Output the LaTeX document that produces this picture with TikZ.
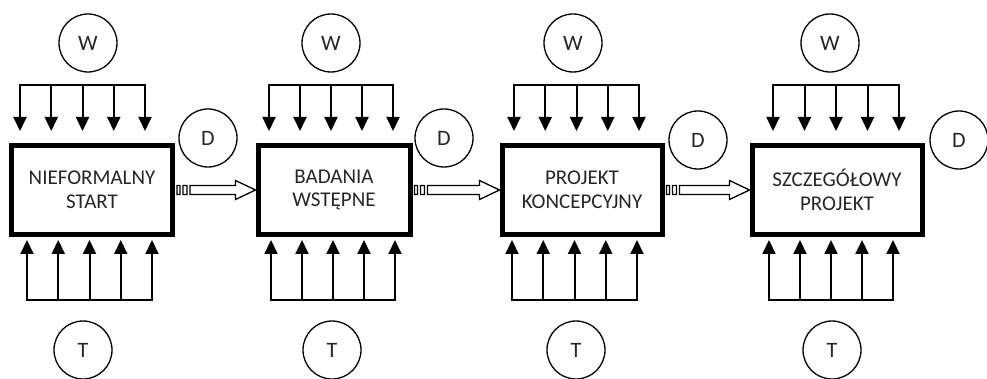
\documentclass[tikz,border=0pt]{standalone}
\usepackage{fontspec}
\setmainfont{Carlito}
\usetikzlibrary{arrows.meta,calc}
\tikzset{
  stage/.style={draw, rectangle, line width=5pt, minimum height=89pt,
    inner sep=0pt, align=center, text=black!85,
    font=\fontsize{21}{23.5}\selectfont},
  factor/.style={draw, circle, line width=1.3pt, minimum size=58pt,
    inner sep=0pt, text=black!85, font=\fontsize{22}{22}\selectfont},
  feed/.style={line width=2pt, -{Triangle[width=13pt,length=14pt]}},
  feedbar/.style={line width=2pt, line cap=rect},
  flow/.style={line width=1.3pt, fill=white, line join=miter},
}
\begin{document}
\begin{tikzpicture}[x=1pt,y=-1pt]
\useasboundingbox (0,0) rectangle (987,379);

% stages with their inputs (W), outputs (T) and decisions (D)
\foreach \i/\bx/\bw/\wx/\wa/\wb/\tx/\ta/\tb/\dx/\dy/\txt in {
  1/92/161/88/20/145/83/27/152/208/138/{NIEFORMALNY\\START},
  2/334/152/331/269/393/332/271/395/444/138/{BADANIA\\WSTĘPNE},
  3/582/160/573/514/639/576/512/637/698/140/{PROJEKT\\KONCEPCYJNY},
  4/837/170/830/773/899/832/769/893/959/140/{SZCZEGÓŁOWY\\PROJEKT}}{
  \node[stage, minimum width=\bw pt] (b\i) at (\bx,190) {\txt};
  \node[factor] (w\i) at (\wx,43) {W};
  \node[factor] (t\i) at (\tx,350) {T};
  \node[factor] (d\i) at (\dx,\dy) {D};
  % feeding arrows from above
  \coordinate (wl\i) at (\wa,85);
  \coordinate (wr\i) at (\wb,85);
  \draw[feedbar] (wl\i) -- (wr\i);
  \foreach \k in {0,...,4}{
    \coordinate (ws\i\k) at ({\wa+\k*(\wb-\wa)/4},85);
    \coordinate (we\i\k) at ({\wa+\k*(\wb-\wa)/4},131);
    \draw[feed] (ws\i\k) -- (we\i\k);
  }
  % feeding arrows from below
  \coordinate (tl\i) at (\ta,300);
  \coordinate (tr\i) at (\tb,300);
  \draw[feedbar] (tl\i) -- (tr\i);
  \foreach \k in {0,...,4}{
    \coordinate (ts\i\k) at ({\ta+\k*(\tb-\ta)/4},300);
    \coordinate (te\i\k) at ({\ta+\k*(\tb-\ta)/4},240);
    \draw[feed] (ts\i\k) -- (te\i\k);
  }
}

% striped hollow arrows between stages
\foreach \a/\b in {1/2,2/3,3/4}{
  \draw[flow] let \p1=([xshift=2pt]b\a.east), \p2=(b\b.west) in
    (\x1,\y1+4.5pt) rectangle (\x1+3pt,\y1-4.5pt)
    (\x1+6pt,\y1+4.5pt) rectangle (\x1+10pt,\y1-4.5pt)
    (\x1+13pt,\y1+4.5pt) -- (\x2-20pt,\y1+4.5pt) -- (\x2-20pt,\y1+9.5pt)
    -- (\x2,\y1) -- (\x2-20pt,\y1-9.5pt) -- (\x2-20pt,\y1-4.5pt)
    -- (\x1+13pt,\y1-4.5pt) -- cycle;
}
\end{tikzpicture}
\end{document}
